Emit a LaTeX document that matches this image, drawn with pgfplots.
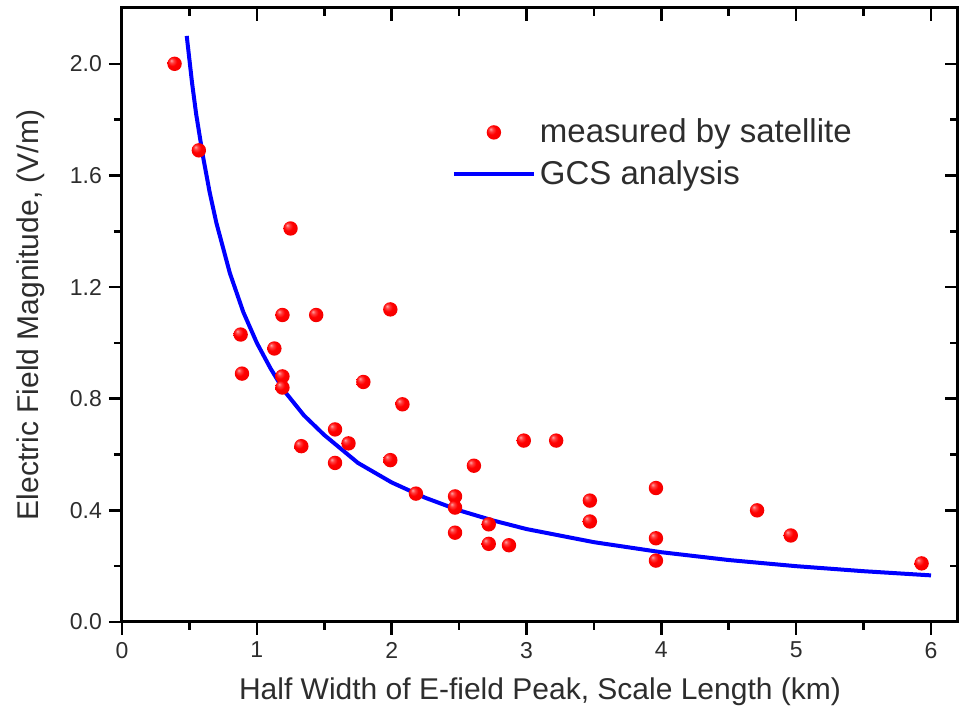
\documentclass[border=0pt]{standalone}
\usepackage{pgfplots}
\pgfplotsset{compat=1.18}
\usepackage{fontspec}
\setmainfont{Liberation Sans}
\definecolor{txt}{RGB}{45,45,45}
\pgfdeclareradialshading{redsphere}{\pgfqpoint{-12bp}{12bp}}{%
  color(0bp)=(red!35!white); color(7bp)=(red!75!white); color(16bp)=(red);
  color(40bp)=(red!92!black); color(50bp)=(red!85!black)}
\pgfdeclareplotmark{rball}{%
  \pgfpathcircle{\pgfpointorigin}{\pgfplotmarksize}%
  \pgfshadepath{redsphere}{0}%
  \pgfusepath{}%
}
\pgfplotsset{
  markleg/.style={legend image code/.code={\draw[mark repeat=2,mark phase=2,##1] plot coordinates {(0pt,0pt)(20pt,0pt)(40pt,0pt)};}},
  lineleg/.style={legend image code/.code={\draw[##1] (0pt,0pt) -- (40pt,0pt);}},
}
\begin{document}
\begin{tikzpicture}
\useasboundingbox (-61pt,-44.5pt) rectangle (421.5pt,311pt);
% top/right mirror ticks (inside)
\begin{axis}[at={(0,0)}, anchor=south west, scale only axis,
  width=418pt, height=307pt,
  xmin=0, xmax=6.2, ymin=0, ymax=2.2,
  xtick={0,1,2,3,4,5,6}, ytick={0,0.4,0.8,1.2,1.6,2.0},
  minor x tick num=1, minor y tick num=1,
  tick align=inside, xtick pos=right, ytick pos=right,
  xticklabels={}, yticklabels={},
  major tick length=6.5pt, minor tick length=4pt,
  axis line style={line width=1.5pt},
  tick style={line width=1.3pt, black},
]
\end{axis}
\begin{axis}[at={(0,0)}, anchor=south west, scale only axis,
  width=418pt, height=307pt,
  xmin=0, xmax=6.2, ymin=0, ymax=2.2,
  xtick={0,1,2,3,4,5,6}, ytick={0,0.4,0.8,1.2,1.6,2.0},
  minor x tick num=1, minor y tick num=1,
  tick align=outside, xtick pos=left, ytick pos=left,
  major tick length=6.5pt, minor tick length=4pt,
  axis line style={line width=1.5pt},
  tick style={line width=1.3pt, black},
  /pgf/number format/assume math mode=true,
  yticklabel style={/pgf/number format/.cd, fixed, fixed zerofill, precision=1},
  tick label style={font=\fontsize{11.5}{14}\selectfont, text=txt},
  xlabel={Half Width of E-field Peak, Scale Length (km)},
  ylabel={Electric Field Magnitude, (V/m)},
  label style={font=\fontsize{15}{18}\selectfont, text=txt},
  x label style={at={(axis description cs:0.5,-0.114)}, anchor=center},
  y label style={at={(axis description cs:-0.109,0.5)}, anchor=center},
  legend style={draw=none, fill=none, font=\fontsize{16.5}{20}\selectfont, text=txt,
    at={(axis description cs:0.387,0.833)}, anchor=north west, row sep=3.5pt},
  legend cell align=left,
]
\addplot[only marks, mark=rball, mark size=3.6pt, markleg]
coordinates {
(0.39,2.00) (0.57,1.69) (0.88,1.03) (0.89,0.89) (1.13,0.98) (1.19,1.10)
(1.19,0.88) (1.19,0.84) (1.25,1.41) (1.33,0.63) (1.44,1.10) (1.58,0.69)
(1.58,0.57) (1.68,0.64) (1.79,0.86) (1.99,1.12) (1.99,0.58) (2.08,0.78)
(2.18,0.46) (2.47,0.45) (2.47,0.41) (2.47,0.32) (2.61,0.56) (2.72,0.35)
(2.72,0.28) (2.87,0.275) (2.98,0.65) (3.22,0.65) (3.47,0.435) (3.47,0.36)
(3.96,0.48) (3.96,0.30) (3.96,0.22) (4.71,0.40) (4.96,0.31) (5.93,0.21)
};
\addlegendentry{measured by satellite}
\addplot[blue, line width=2pt, no marks, lineleg]
coordinates {
(0.48,2.10) (0.52,1.93) (0.55,1.82) (0.6,1.67) (0.65,1.54) (0.7,1.43)
(0.8,1.25) (0.9,1.11) (1.0,1.00) (1.1,0.91) (1.2,0.83) (1.35,0.74)
(1.5,0.67) (1.75,0.57) (2.0,0.50) (2.25,0.445) (2.5,0.40) (2.75,0.364)
(3.0,0.333) (3.5,0.286) (4.0,0.25) (4.5,0.222) (5.0,0.20) (5.5,0.182) (6.0,0.167)
};
\addlegendentry{GCS analysis}
\end{axis}
\end{tikzpicture}
\end{document}
